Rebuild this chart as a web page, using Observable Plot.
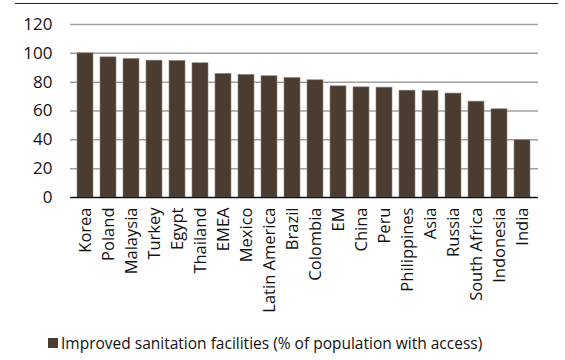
<!DOCTYPE html>
<html>
<head>
<meta charset="utf-8">
<script src="https://cdn.jsdelivr.net/npm/d3@7"></script>
<script src="https://cdn.jsdelivr.net/npm/@observablehq/plot@0.6"></script>
<style>
  html, body { margin: 0; padding: 0; background: #fff; }
  #wrap { position: relative; width: 565px; height: 360px; font-family: "Open Sans", sans-serif; }
  #topline { position: absolute; left: 15px; top: 3px; width: 543px; border-top: 1.5px solid #222; }
  #legend { position: absolute; left: 48px; top: 332px; font-size: 15.5px; color: #111; display: flex; align-items: center; white-space: nowrap; }
  #legend .sw { width: 10px; height: 10px; background: #4a3c31; margin-right: 3px; }
</style>
</head>
<body>
<div id="wrap">
  <div id="topline"></div>
  <div id="chart"></div>
  <div id="legend"><span class="sw"></span><span>Improved sanitation facilities (% of population with access)</span></div>
</div>
<script>
const countries = ["Korea", "Poland", "Malaysia", "Turkey", "Egypt", "Thailand", "EMEA", "Mexico",
  "Latin America", "Brazil", "Colombia", "EM", "China", "Peru", "Philippines", "Asia", "Russia",
  "South Africa", "Indonesia", "India"];
const access = [100, 97.2, 96.1, 94.9, 94.7, 93.1, 85.7, 85.0, 84.1, 82.9, 81.3, 77.1, 76.4, 76.2,
  74.1, 73.9, 72.1, 66.5, 61.2, 39.7];
const yTicks = [0, 20, 40, 60, 80, 100, 120];

const rows = countries.map((c, i) => ({country: c, value: access[i]}));
const barColor = "#4a3c31";

const chart = Plot.plot({
  width: 565,
  height: 325,
  marginTop: 24,
  marginBottom: 128,
  marginLeft: 70,
  marginRight: 27,
  style: {fontFamily: "'Open Sans', sans-serif", color: "#111"},
  x: {domain: countries, paddingInner: 0.3, paddingOuter: 0.13},
  y: {domain: [0, 120]},
  marks: [
    Plot.ruleY(yTicks.filter(d => d > 0), {stroke: "#a0a0a0", strokeWidth: 1.5}),
    Plot.barY(rows, {x: "country", y: "value", fill: barColor, stroke: "#8c847d", strokeWidth: 0.6}),
    Plot.ruleY([0], {stroke: "#111", strokeWidth: 1.5}),
    Plot.axisY(yTicks, {tickSize: 0, tickPadding: 4, dx: -14, fontSize: 17, label: null}),
    Plot.axisX({tickSize: 0, tickPadding: 10, tickRotate: -90, fontSize: 16.5, label: null})
  ]
});
document.getElementById("chart").appendChild(chart);
</script>
</body>
</html>
